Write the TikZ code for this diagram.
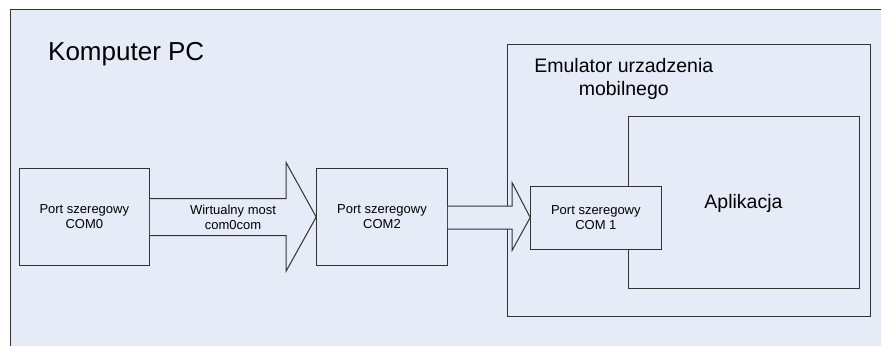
\documentclass[tikz,border=0pt]{standalone}
\usepackage{fontspec}
\setmainfont{Liberation Sans}
\usetikzlibrary{calc}
\definecolor{bgblue}{RGB}{230,236,247}
\definecolor{linegray}{RGB}{50,50,50}
\tikzset{
  box/.style={draw=linegray, line width=1pt, fill=bgblue, inner sep=0pt},
  smalltext/.style={font=\fontsize{13}{15}\selectfont, align=center, inner sep=0pt},
  bigtext/.style={font=\fontsize{19.5}{23}\selectfont, align=center, inner sep=0pt},
  blockarrow/.style={draw=linegray, line width=1pt, fill=bgblue, line join=miter}
}
\begin{document}
\begin{tikzpicture}[x=1pt,y=-1pt]
\useasboundingbox (0,0) rectangle (881,346);
% outer frame
\fill[bgblue] (10,9.5) rectangle (881,346);
\draw[linegray, line width=1pt] (10,346) -- (10,9.5) -- (881,9.5);
\node[anchor=base west, font=\fontsize{26}{30}\selectfont, inner sep=0pt] (pc) at (48,60) {Komputer PC};
% emulator frame
\node[box, minimum width=363.2pt, minimum height=272.4pt] (emu) at (689.1,180.5) {};
\node[bigtext] (emulabel) at (623.8,79) {Emulator urzadzenia\\mobilnego};
% application
\node[box, minimum width=230.8pt, minimum height=172.7pt] (app) at (743.9,202.35) {};
\node[bigtext] (applabel) at (743.5,203) {Aplikacja};
% ports
\node[box, minimum width=130pt, minimum height=97.4pt] (com0) at (84.3,217) {};
\node[smalltext] at (com0) {Port szeregowy\\COM0};
\node[box, minimum width=130.6pt, minimum height=97.4pt] (com2) at (382,217) {};
\node[smalltext] at (com2) {Port szeregowy\\COM2};
\node[box, minimum width=130.3pt, minimum height=63pt] (com1) at (595.85,217.5) {};
\node[smalltext] at (com1) {Port szeregowy\\COM 1};
% block arrow 1
\draw[blockarrow]
  ($(com0.east)+(0,-18.5)$) -- ++(136.4,0) -- ++(0,-35.8) -- ($(com2.west)$)
  -- ($(com0.east)+(136.4,54)$) -- ++(0,-35.5) -- ($(com0.east)+(0,18.5)$);
\node[smalltext] (bridge) at ($(com0.east)!0.5!(com2.west)+(0,0.5)$) {Wirtualny most\\com0com};
% block arrow 2
\draw[blockarrow]
  ($(com2.east)+(0,-10.8)$) -- ++(64.4,0) -- ++(0,-23.4) -- ($(com1.west)$)
  -- ($(com2.east)+(64.4,33.2)$) -- ++(0,-21.2) -- ($(com2.east)+(0,12)$);
\end{tikzpicture}
\end{document}
